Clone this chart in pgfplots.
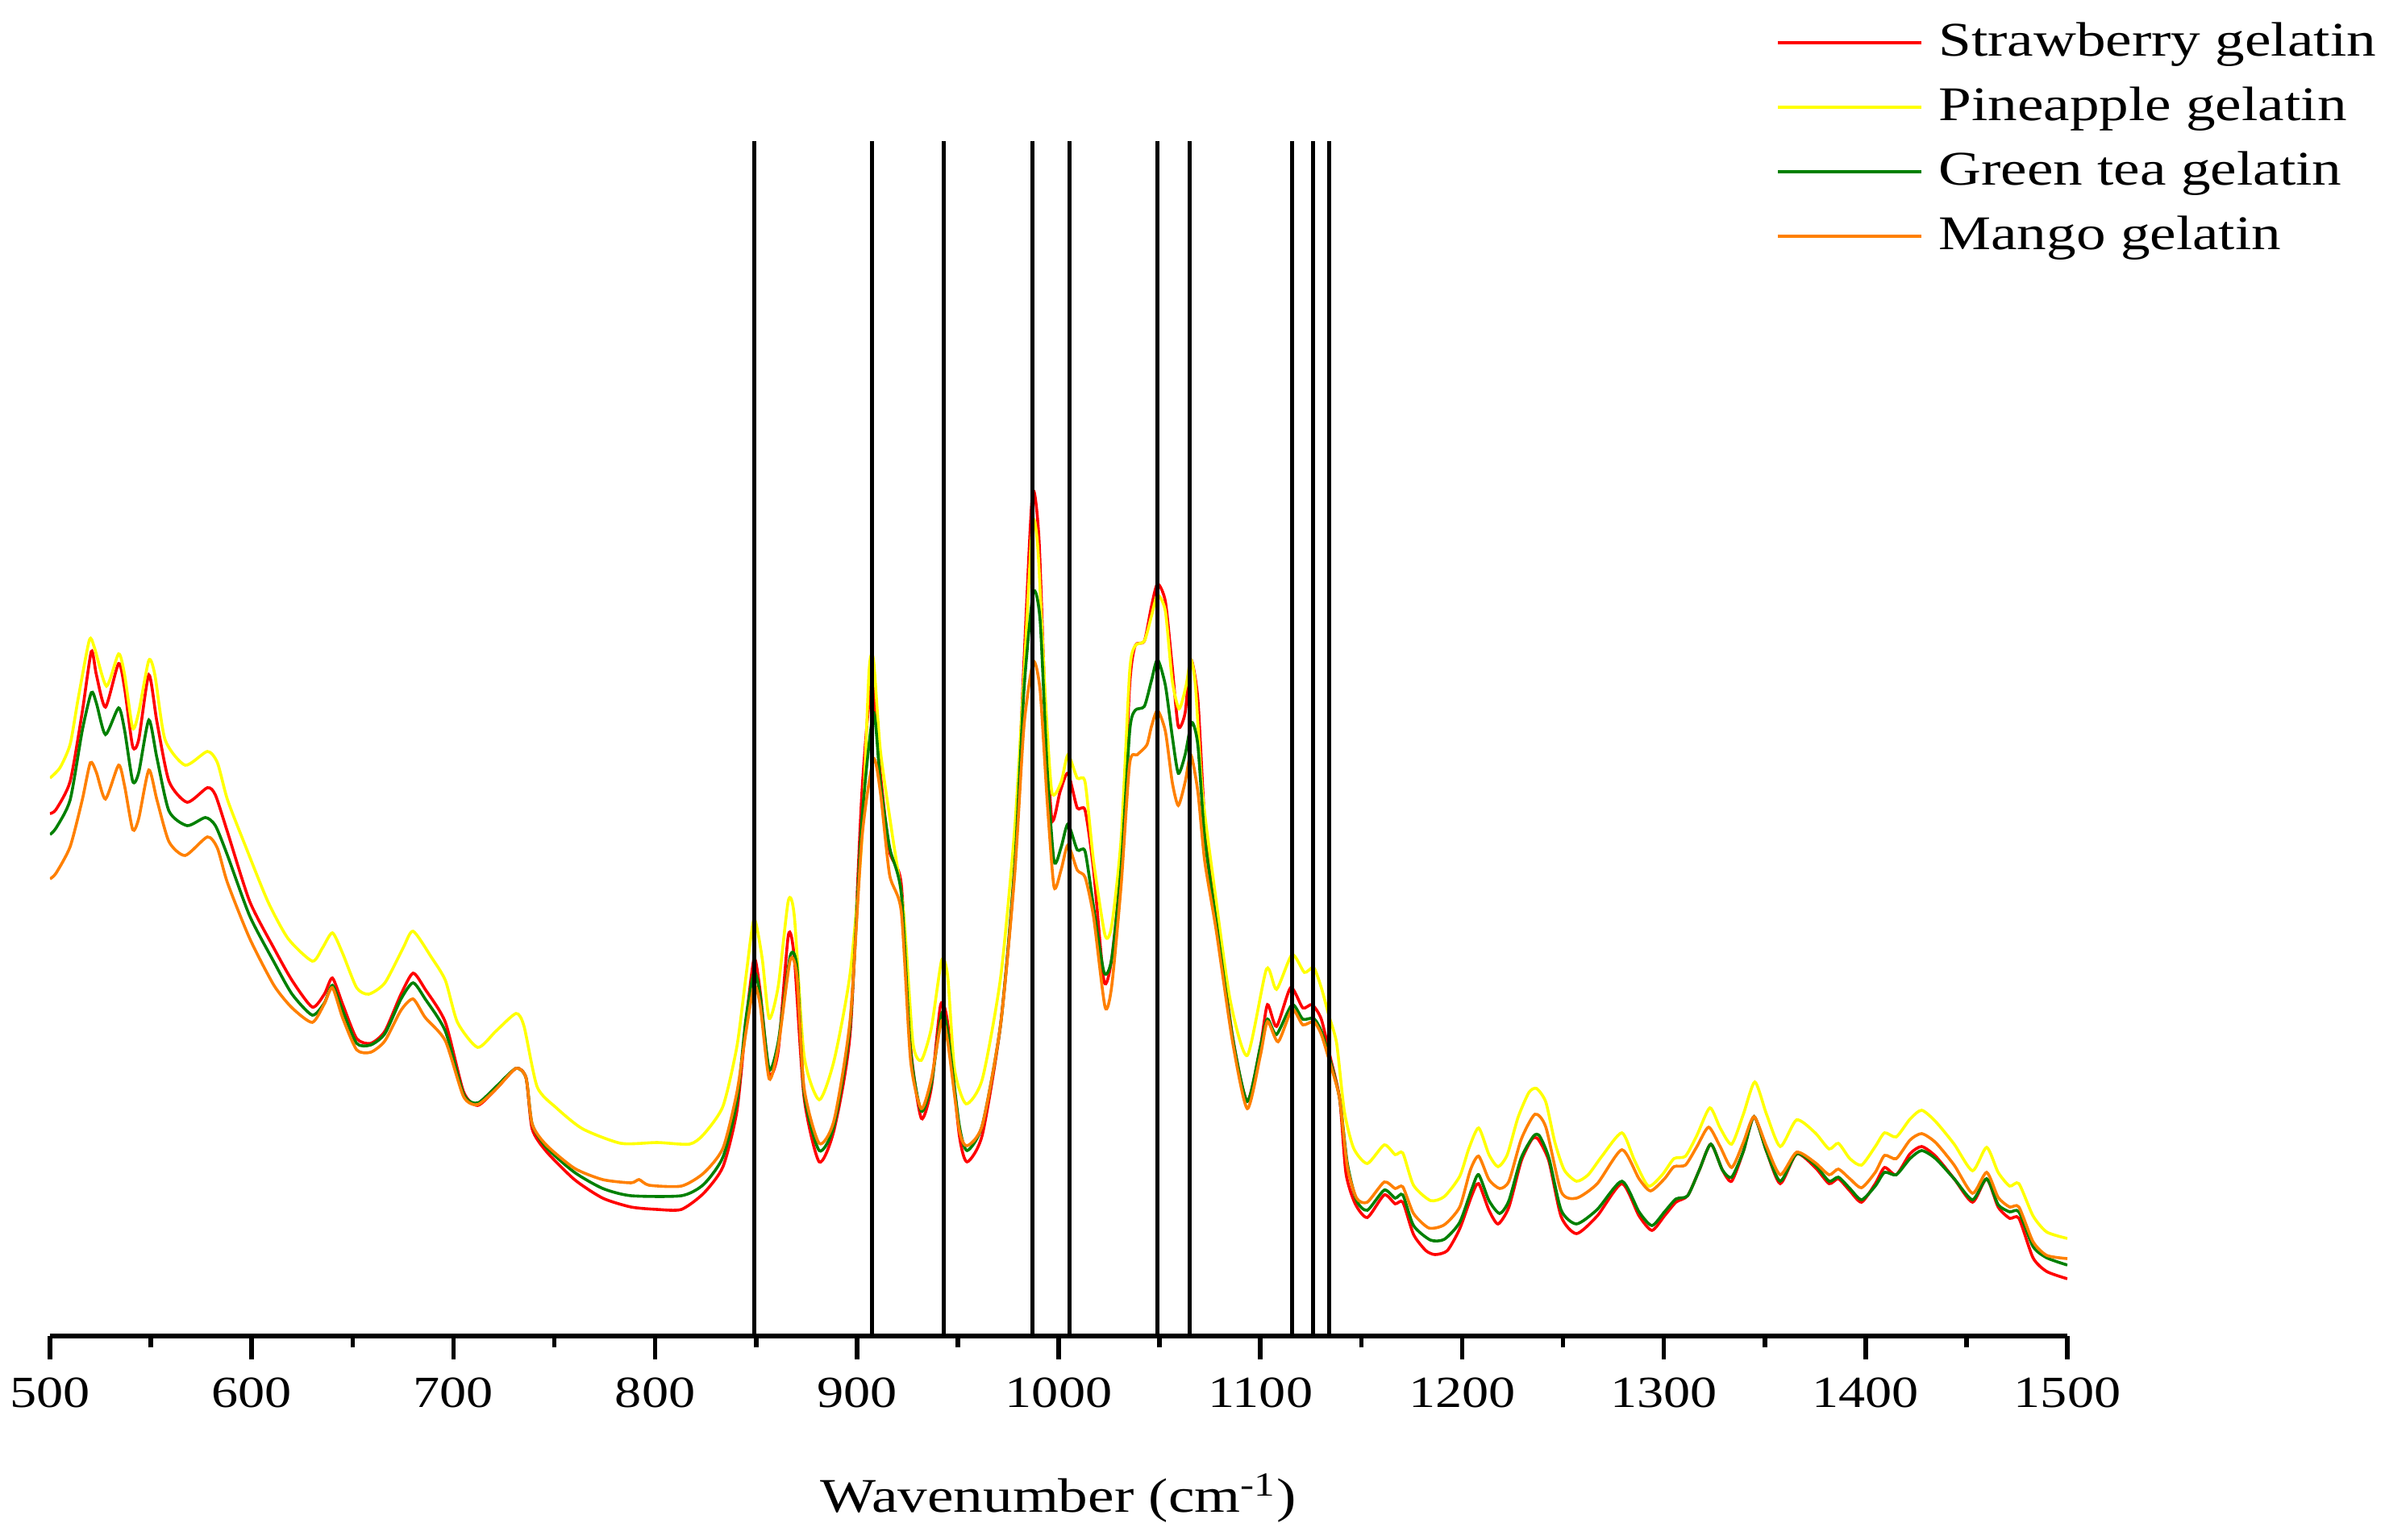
\documentclass[border=0pt]{standalone}
\usepackage{fontspec}
\setmainfont{Liberation Serif}
\usepackage{pgfplots}
\pgfplotsset{compat=1.18}
\definecolor{cRed}{RGB}{255,0,0}
\definecolor{cYel}{RGB}{255,255,0}
\definecolor{cGrn}{RGB}{0,128,0}
\definecolor{cOra}{RGB}{255,128,0}
\begin{document}
\begin{tikzpicture}
\useasboundingbox (-15.5pt,-63pt) rectangle (724pt,414.25pt);
\begin{axis}[
  at={(0,0)}, anchor=south west,
  scale only axis, width=625.5pt, height=370.5pt,
  xmin=500, xmax=1500, ymin=0, ymax=1482,
  axis x line*=bottom, axis y line=none,
  x axis line style={-, line width=1.4pt},
  xtick={500,600,...,1500}, minor x tick num=1,
  tick align=outside, major tick length=7.2pt, minor tick length=3.6pt,
  every tick/.style={black, line width=1.4pt},
  /pgf/number format/assume math mode=true,
  /pgf/number format/1000 sep={},
  xticklabel style={anchor=center, yshift=-10.4pt, font=\fontsize{13.8}{15}\selectfont, xscale=1.2},
  xlabel={Wavenumber (cm\textsuperscript{-1})},
  xlabel style={at={(0.5,-0.1356)}, anchor=center, font=\fontsize{15}{17}\selectfont, xscale=1.22},
  legend cell align=left,
  legend style={draw=none, fill=none, at={(0.8557,1.1012)}, anchor=north west,
    inner sep=0pt, outer sep=0pt, row sep=6pt, column sep=4.75pt,
    nodes={inner sep=0pt, outer sep=0pt, text height=11pt, text depth=3pt,
      font=\fontsize{15}{17}\selectfont, xscale=1.22}},
  legend image code/.code={\draw[#1, line width=1.1pt] (0pt,0pt) -- (44.5pt,0pt);},
  every axis plot/.append style={line width=0.9pt, smooth, tension=0.4},
]
\addplot[cRed] coordinates {
(500,648)(503,653)(510,688)(516,774)(520.5,849)(523,820)(527.5,780)(534,834)(537,803)(541,731)(544,740)(549,820)(553,762)(559,688)(568,662)(578,680)(582,671)(588,625)(599,539)(611,481)(620,441)(630,408)(636,424)(640,444)(645,412)(652,369)(659,363)(666,378)(674,424)(680,450)(686,430)(696,389)(705,303)(712,286)(721,306)(731,332)(736,320)(739,257)(746,229)(760,194)(774,171)(788,160)(801,157)(813,157)(824,177)
(833.6,210)(840.5,279)(845,388)(849,468)(852,428)(856.5,325)(861,354)(866,497)(869,468)(873.8,296)(881.3,216)(888.7,256)(896.7,377)(902.5,675)(907.5,813)(911.6,698)(916.2,601)(922,560)(926.6,359)(931.9,270)(936.9,308)(941.5,411)(945,388)(950.7,250)(954.6,216)(962.2,250)(971.3,388)(978.2,583)(982.8,836)(987,1045)(990.2,991)(993.2,790)(996.6,641)(1000.7,675)(1004.6,698)(1009.2,655)(1013.1,652)(1017.3,578)(1022.5,440)(1026.3,468)(1031,589)(1035.2,807)(1037.9,856)(1042.5,862)(1046,905)(1049,933)(1052.9,911)(1056.3,830)(1059.3,756)(1062.7,773)(1065.5,839)(1069,790)(1072.4,641)(1078.1,526)(1086.2,371)(1093.5,291)(1100,359)(1103.5,411)(1108,384)(1115,432)(1121,407)(1125.6,411)(1130.2,393)(1134.8,344)(1139.3,294)(1142.4,202)(1147,164)(1153,147)(1161.4,175)(1166.8,164)(1170.6,166)(1175.9,126)(1182,106)(1186.6,101)(1192.7,106)(1198.8,133)(1204.9,175)(1208.2,189)(1213.3,156)(1217.8,139)(1223.2,160)(1229.3,217)(1234.6,244)(1237.7,244)(1243,217)(1249.1,148)(1256.7,127)(1267,149)(1279.2,189)(1287.7,149)(1294.1,131)(1300.3,149)(1306,166)(1311.8,174)(1317.6,206)(1323.3,238)(1329,206)(1333.6,192)(1339.4,229)(1344.7,272)(1350.9,229)(1357.7,189)(1365.8,226)(1375,209)(1381.9,189)(1386.5,195)(1392.2,180)(1398,166)(1404.8,189)(1409.4,209)(1415.2,200)(1422,226)(1427.8,235)(1434.7,223)(1443.9,195)(1453,166)(1460,195)(1465.7,160)(1471.4,146)(1476,146)(1483,97)(1489.8,80)(1500,71)
};
\addlegendentry{Strawberry gelatin}
\addplot[cYel] coordinates {
(500,692)(505,705)(510,734)(514,791)(519.5,863)(522,854)(528,806)(534,846)(537,820)(541,754)(544,774)(549,838)(552,820)(557,740)(567,708)(578,725)(583,711)(588,665)(597,607)(608,539)(618,493)(630,465)(635,481)(640,500)(645,475)(652,432)(658,424)(666,438)(675,481)(680,502)(689,470)(696,441)(702,389)(712,358)(721,378)(731,400)(735,384)(741.5,309)(751,283)(764,257)(783,239)(801,240)(817,238)(824,250)
(833.6,285)(840.5,359)(845,446)(849,517)(853,469)(856.5,394)(861,434)(866,540)(869,520)(873.8,348)(881.3,293)(888.7,342)(896.7,451)(902.5,618)(906,824)(908.2,839)(911.6,727)(917.4,624)(923.1,526)(927.7,365)(931.9,342)(936.9,382)(942,466)(945,446)(948.4,331)(954.1,288)(962.2,319)(971.3,446)(978.2,629)(982.8,819)(987,1007)(989.7,977)(993.2,801)(996.6,675)(1001.2,687)(1004.6,721)(1009.2,692)(1013.1,687)(1017.3,589)(1023,497)(1026.3,509)(1031,618)(1035.2,824)(1037.9,856)(1042.5,862)(1046,893)(1049,919)(1052.9,899)(1056.3,813)(1059.7,778)(1063.2,807)(1065.5,839)(1067.8,807)(1071.2,675)(1077,560)(1085,417)(1093.5,348)(1103,455)(1108,430)(1115.7,473)(1121.8,451)(1126.4,457)(1130.2,432)(1134,397)(1137.8,363)(1141.6,279)(1146.2,233)(1153,214)(1161.4,237)(1166.8,225)(1170.6,227)(1175.9,187)(1184.3,168)(1191.2,173)(1198.8,198)(1203.4,233)(1208.2,258)(1213.3,225)(1217.8,210)(1222.4,225)(1227.7,271)(1233.1,302)(1236.9,307)(1241.5,290)(1246,240)(1250.6,206)(1256.7,192)(1262.5,200)(1269.3,223)(1279.2,252)(1285.4,218)(1292.3,186)(1299.2,200)(1305,220)(1310.7,223)(1316.4,249)(1322.8,283)(1327.9,258)(1333.6,238)(1339.4,275)(1345.1,315)(1350.9,275)(1357.7,235)(1365.8,268)(1375,252)(1381.9,232)(1386.5,239)(1392.2,220)(1398,212)(1404.8,235)(1409.4,252)(1415.2,247)(1422,269)(1427.8,280)(1434.7,266)(1443.9,238)(1453,205)(1460,234)(1465.7,203)(1471.4,186)(1476,189)(1483,149)(1489.8,129)(1500,121)
};
\addlegendentry{Pineapple gelatin}
\addplot[cGrn] coordinates {
(500,622)(503,630)(510,665)(516,751)(520.5,798)(523,785)(527.5,746)(534,779)(537,751)(541,688)(544,699)(549,764)(553,717)(559,651)(568,633)(577,643)(582,633)(588,596)(599,521)(611,464)(620,424)(630,398)(636,413)(640,435)(645,404)(652,363)(659,361)(666,375)(674,418)(680,438)(686,418)(696,378)(705,300)(712,289)(721,309)(731,332)(736,320)(739,263)(746,234)(760,203)(774,183)(788,174)(813,174)(824,188)
(833.6,222)(840.5,291)(845,394)(849,451)(852,423)(856.5,331)(861,365)(866.9,471)(870.3,457)(873.8,302)(881.3,230)(888.7,262)(896.7,388)(902.5,641)(908.2,773)(911.6,687)(916.2,606)(922,549)(926.6,354)(931.9,279)(936.9,313)(942,400)(945,377)(950.7,262)(954.6,230)(962.2,262)(971.3,388)(978.2,583)(982.8,801)(987.4,922)(990.8,888)(994.3,704)(997.7,589)(1001.2,606)(1004.6,635)(1009.2,603)(1013.1,601)(1017.3,532)(1022.5,451)(1026.3,468)(1031,583)(1035.2,750)(1037.9,776)(1042.5,781)(1046,813)(1049,839)(1052.9,807)(1056.3,744)(1059.3,698)(1062.7,721)(1066,761)(1069,733)(1072.4,618)(1078.1,514)(1086.2,371)(1093.5,291)(1100,359)(1103.5,393)(1108,374)(1115.7,411)(1121,393)(1126.4,394)(1130.2,378)(1134.8,340)(1139.3,294)(1143.1,214)(1147.7,168)(1153,156)(1161.4,181)(1166.8,171)(1170.6,175)(1175.9,137)(1184.3,119)(1191.2,120)(1198.8,141)(1204.9,183)(1208.2,200)(1213.3,168)(1218.6,152)(1223.2,168)(1229.3,221)(1235.4,248)(1238.4,248)(1243,221)(1249.1,156)(1256.7,139)(1267,157)(1279.2,192)(1287.7,154)(1294.1,137)(1300.3,154)(1306,170)(1311.8,174)(1317.6,206)(1323.3,238)(1329,206)(1333.6,197)(1339.4,229)(1344.7,272)(1350.9,229)(1357.7,192)(1365.8,226)(1375,212)(1381.9,192)(1386.5,197)(1392.2,183)(1398,169)(1404.8,186)(1409.4,203)(1415.2,200)(1422,220)(1427.8,230)(1434.7,220)(1443.9,195)(1453,169)(1460,195)(1465.7,163)(1471.4,154)(1476,154)(1483,111)(1489.8,97)(1500,88)
};
\addlegendentry{Green tea gelatin}
\addplot[cOra] coordinates {
(500,567)(503,574)(510,607)(516,665)(520,711)(523,699)(527.5,666)(534,708)(537,682)(541,628)(544,642)(549,702)(553,665)(559,613)(567,596)(578,619)(583,605)(588,562)(599,493)(611,435)(620,407)(630,389)(636,412)(640,432)(645,395)(652,355)(659,352)(666,366)(674,404)(680,418)(686,395)(696,366)(705,297)(712,287)(721,306)(731,332)(736,320)(739,263)(746,237)(760,208)(774,194)(788,190)(792,194)(797,187)(813,186)(824,202)
(833.6,233)(840.5,302)(845,377)(849,434)(852,411)(856.5,319)(861,359)(866.9,466)(870.3,446)(873.8,308)(881.3,239)(888.7,268)(896.7,394)(902.5,618)(908.2,715)(911.6,675)(916.2,572)(922,526)(926.6,342)(931.9,282)(936.9,319)(942,391)(945,365)(950.7,256)(954.6,236)(962.2,262)(971.3,388)(978.2,572)(982.8,756)(987.4,836)(990.8,801)(994.3,664)(997.7,557)(1001.2,578)(1004.6,609)(1009.2,578)(1013.1,569)(1017.3,520)(1023,408)(1026.3,434)(1031,560)(1035.2,710)(1039,721)(1043.7,733)(1046,756)(1049,776)(1052.9,750)(1056.3,687)(1059.3,658)(1062.7,687)(1065.5,721)(1069,675)(1072.4,589)(1078.1,503)(1086.2,365)(1093.5,282)(1100,348)(1103.5,390)(1108.8,365)(1115.7,405)(1121,386)(1126.4,390)(1130.2,374)(1134.8,336)(1139.3,294)(1143.1,210)(1147.7,171)(1153,166)(1161.4,191)(1166.8,183)(1170.6,185)(1175.9,152)(1183.5,134)(1191.2,138)(1198.8,160)(1204.1,206)(1208.2,223)(1213.3,194)(1218.6,183)(1223.2,192)(1229.3,244)(1236.1,275)(1241.5,259)(1249.1,179)(1256.7,171)(1267,189)(1279.2,231)(1287.7,195)(1293.4,180)(1300.3,195)(1305,210)(1310.7,212)(1316.4,235)(1322.2,259)(1327.9,235)(1333.6,209)(1339.4,240)(1344.7,272)(1350.9,235)(1357.7,200)(1365.8,228)(1375,215)(1381.9,200)(1386.5,207)(1392.2,195)(1398,184)(1404.8,203)(1409.4,224)(1415.2,220)(1422,243)(1427.8,251)(1434.7,240)(1443.9,212)(1453,177)(1460,203)(1465.7,172)(1471.4,160)(1476,160)(1483,117)(1489.8,100)(1500,96)
};
\addlegendentry{Mango gelatin}
\addplot[black, line width=1.15pt, sharp plot, forget plot] coordinates {(849,0)(849,1482)};
\addplot[black, line width=1.15pt, sharp plot, forget plot] coordinates {(907.5,0)(907.5,1482)};
\addplot[black, line width=1.15pt, sharp plot, forget plot] coordinates {(943,0)(943,1482)};
\addplot[black, line width=1.15pt, sharp plot, forget plot] coordinates {(987,0)(987,1482)};
\addplot[black, line width=1.15pt, sharp plot, forget plot] coordinates {(1005.3,0)(1005.3,1482)};
\addplot[black, line width=1.15pt, sharp plot, forget plot] coordinates {(1049,0)(1049,1482)};
\addplot[black, line width=1.15pt, sharp plot, forget plot] coordinates {(1065,0)(1065,1482)};
\addplot[black, line width=1.15pt, sharp plot, forget plot] coordinates {(1115.6,0)(1115.6,1482)};
\addplot[black, line width=1.15pt, sharp plot, forget plot] coordinates {(1126.1,0)(1126.1,1482)};
\addplot[black, line width=1.15pt, sharp plot, forget plot] coordinates {(1134.1,0)(1134.1,1482)};
\end{axis}
\end{tikzpicture}
\end{document}
